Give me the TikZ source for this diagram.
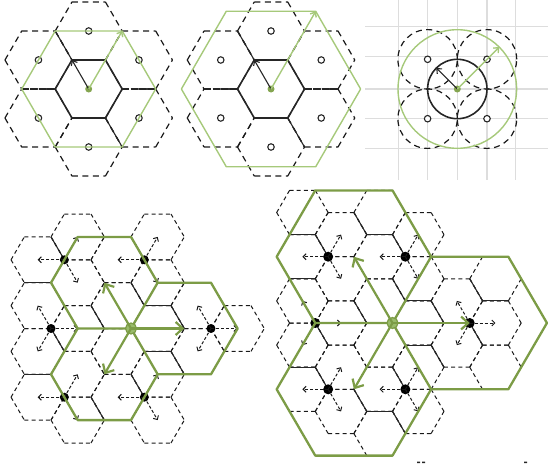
\documentclass[tikz,border=0pt]{standalone}
\usetikzlibrary{arrows.meta}
\definecolor{lgreen}{HTML}{A6C97A}
\definecolor{dgreen}{HTML}{7C9C46}
\definecolor{gridc}{HTML}{DDDDDD}
\tikzset{
  dashhex/.style={black!90,line width=1pt,dash pattern=on 4pt off 3.2pt},
  bigdash/.style={black!90,line width=1.2pt,dash pattern=on 6pt off 4.5pt},
  solidedge/.style={black!85,line width=1.1pt},
  blackhex/.style={black!85,line width=1.6pt,line join=round},
  lightgreen/.style={lgreen,line width=1.4pt,line join=round},
  thickgreen/.style={dgreen,line width=2.3pt,line join=round},
  blackarrow/.style={black!85,line width=1.1pt,-{Straight Barb[length=4pt,width=7pt]}},
  lightarrow/.style={lgreen,line width=1.4pt,-{Straight Barb[length=4pt,width=7pt]}},
  thickarrow/.style={dgreen,line width=2.2pt,-{Straight Barb[length=7pt,width=13pt,line width=2.2pt]}},
  dasharrow/.style={black!90,line width=1pt,dash pattern=on 3pt off 2pt,-{Straight Barb[length=3pt,width=6pt,line width=1pt]}},
  blackdot/.style={circle,fill=black,inner sep=0pt,minimum size=#1},
  opendot/.style={circle,draw=black!85,line width=1.1pt,fill=white,inner sep=0pt,minimum size=6.5pt},
  smallgreen/.style={circle,fill=dgreen!80!lgreen,inner sep=0pt,minimum size=7pt},
  biggreen/.style={circle,fill=lgreen!70!dgreen,draw=dgreen,line width=1.2pt,inner sep=0pt,minimum size=11pt},
  gridline/.style={gridc,line width=1.3pt}
}
% six edges of a hexagon in lattice coordinates, all drawn left to right
\newcommand\hexedges[3][dashhex]{%
  \draw[#1] ({#2-2},{#3})--({#2-1},{#3+1}) ({#2-1},{#3+1})--({#2+1},{#3+1}) ({#2+1},{#3+1})--({#2+2},{#3})
            ({#2-2},{#3})--({#2-1},{#3-1}) ({#2-1},{#3-1})--({#2+1},{#3-1}) ({#2+1},{#3-1})--({#2+2},{#3});}
% dot with three dashed arrows to hexagon centres
\newcommand\dotarrows[7]{%
  \node[blackdot=#7] (#1) at (#2,#3) {};
  \coordinate (#1a) at (#4); \coordinate (#1b) at (#5); \coordinate (#1c) at (#6);
  \draw[dasharrow] (#1.center)--(#1a);
  \draw[dasharrow] (#1.center)--(#1b);
  \draw[dasharrow] (#1.center)--(#1c);}
\newcommand\threehex[2]{% solid edges and dots common to panels 4 and 5
  \foreach \p/\q/\r/\s in {-8/2/-6/2,-6/4/-5/3,-3/1/-2/0,0/2/1/1,1/1/3/1,3/1/4/0,-6/0/-5/-1,1/-1/3/-1,3/-1/4/-2,-8/-2/-6/-2,-3/-3/-2/-4,0/-2/1/-3}
    {\draw[solidedge] (\p,\q)--(\r,\s);}
  \dotarrows{#1a}{-5}{3}{-7,3}{-4,4}{-4,2}{#2}
  \dotarrows{#1b}{1}{3}{-1,3}{2,4}{2,2}{#2}
  \dotarrows{#1c}{-6}{0}{-7,1}{-7,-1}{-4,0}{#2}
  \dotarrows{#1d}{6}{0}{5,1}{5,-1}{8,0}{#2}
  \dotarrows{#1e}{-5}{-3}{-7,-3}{-4,-2}{-4,-4}{#2}
  \dotarrows{#1f}{1}{-3}{-1,-3}{2,-2}{2,-4}{#2}
}
\begin{document}
\begin{tikzpicture}[x=1pt,y=-1pt]
\useasboundingbox (0,0) rectangle (548,463);

% ---------- panel 1
\begin{scope}[shift={(88.7,89)},x=16.75pt,y=29pt]
  \foreach \a/\b in {0/2,0/-2,3/1,3/-1,-3/1,-3/-1}{\hexedges[bigdash]{\a}{\b}}
  \draw[solidedge] (-2,2)--(-1,1) (1,-1)--(2,-2);
  \draw[solidedge,dash pattern=on 7pt off 1.5pt] (-4,0)--(-2,0) (2,0)--(4,0);
  \draw[blackhex] (-2,0)--(-1,1)--(1,1)--(2,0)--(1,-1)--(-1,-1)--cycle;
  \foreach \a/\b/\n in {0/2/a,0/-2/b,3/1/c,3/-1/d,-3/1/e,-3/-1/f}{\node[opendot] (o1\n) at (\a,\b) {};}
  \draw[lightgreen] (-4,0)--(-2,2)--(2,2)--(4,0)--(2,-2)--(-2,-2)--cycle;
  \node[smallgreen] (c1) at (0,0) {};
  \coordinate (t1a) at (-1,1); \coordinate (t1b) at (2,2);
  \draw[blackarrow] (c1.center)--(t1a);
  \draw[lightarrow] (c1.center)--(t1b);
\end{scope}

% ---------- panel 2
\begin{scope}[shift={(271,89)},x=16.75pt,y=29pt]
  \foreach \a/\b in {0/2,0/-2,3/1,3/-1,-3/1,-3/-1}{\hexedges[bigdash]{\a}{\b}}
  \draw[solidedge] (-2,2)--(-1,1) (1,-1)--(2,-2);
  \draw[solidedge,dash pattern=on 7pt off 1.5pt] (-4,0)--(-2,0) (2,0)--(4,0);
  \draw[blackhex] (-2,0)--(-1,1)--(1,1)--(2,0)--(1,-1)--(-1,-1)--cycle;
  \foreach \a/\b/\n in {0/2/a,0/-2/b,3/1/c,3/-1/d,-3/1/e,-3/-1/f}{\node[opendot] (o2\n) at (\a,\b) {};}
  \draw[lightgreen] (-5.35,0)--(-2.67,2.68)--(2.67,2.68)--(5.35,0)--(2.67,-2.68)--(-2.67,-2.68)--cycle;
  \node[smallgreen] (c2) at (0,0) {};
  \coordinate (t2a) at (-1,1); \coordinate (t2b) at (2.67,2.68);
  \draw[blackarrow] (c2.center)--(t2a);
  \draw[lightarrow] (c2.center)--(t2b);
\end{scope}

% ---------- panel 3
\foreach \x in {398.3,427.7,457.3,487,515.7}{\draw[gridline] (\x,0)--(\x,180);}
\foreach \y in {26.7,56.7,89,118.7,148.3}{\draw[gridline] (365,\y)--(548,\y);}
\begin{scope}[shift={(457.3,89)}]
  \foreach \a/\b/\n in {-29.7/-29.7/a,29.7/-29.7/b,-29.7/29.7/c,29.7/29.7/d}{
    \draw[bigdash] (\a,\b) circle[radius=29.7pt];
    \node[opendot] (o3\n) at (\a,\b) {};}
  \draw[blackhex] (0,0) circle[radius=29.7pt];
  \draw[lightgreen] (0,0) circle[radius=59.3pt];
  \node[smallgreen] (c3) at (0,0) {};
  \coordinate (t3a) at (-21,-21); \coordinate (t3b) at (42,-42);
  \draw[blackarrow] (c3.center)--(t3a);
  \draw[lightarrow] (c3.center)--(t3b);
\end{scope}

% ---------- panel 4
\begin{scope}[shift={(131,328.5)},x=13.33pt,y=22.9pt]
  \foreach \a/\b in {-7/3,-7/1,-7/-1,-7/-3,-4/4,-4/2,-4/0,-4/-2,-4/-4,-1/3,-1/1,-1/-1,-1/-3,2/4,2/2,2/0,2/-2,2/-4,5/1,5/-1,8/0}{\hexedges{\a}{\b}}
  \threehex{d4}{9pt}
  \draw[thickgreen] (0,0)--(-4,0)--(-6,2)--(-4,4)--(0,4)--(2,2)--cycle;
  \draw[thickgreen] (-4,0)--(-6,-2)--(-4,-4)--(0,-4)--(2,-2)--(0,0);
  \draw[thickgreen] (2,2)--(6,2)--(8,0)--(6,-2)--(2,-2);
  \node[biggreen] (c4) at (0,0) {};
  \coordinate (t4a) at (-2,2); \coordinate (t4b) at (-2,-2); \coordinate (t4c) at (4,0);
  \draw[thickarrow] (c4.center)--(t4a);
  \draw[thickarrow] (c4.center)--(t4b);
  \draw[thickarrow] (c4.center)--(t4c);
\end{scope}

% ---------- panel 5
\begin{scope}[shift={(392.5,323)},x=12.87pt,y=22.1pt]
  \foreach \a/\b in {-7/5,-7/3,-7/1,-7/-1,-7/-3,-4/4,-4/2,-4/0,-4/-2,-4/-4,-1/5,-1/3,-1/1,-1/-1,-1/-3,-1/-5,2/4,2/2,2/0,2/-2,2/-4,5/1,5/-1,8/2,8/0,8/-2}{\hexedges{\a}{\b}}
  \foreach \p/\q/\r/\s in {-8/4/-6/4,-2/4/0/4,0/4/1/3,-3/5/-2/4,-6/-2/-5/-3,-2/-4/0/-4,0/-4/1/-5,6/2/7/1,7/1/9/1,6/0/7/-1}
    {\draw[solidedge] (\p,\q)--(\r,\s);}
  \threehex{d5}{10pt}
  \draw[thickgreen] (0,0)--(-6,0)--(-9,3)--(-6,6)--(0,6)--(3,3)--cycle;
  \draw[thickgreen] (-6,0)--(-9,-3)--(-6,-6)--(0,-6)--(3,-3)--(0,0);
  \draw[thickgreen] (3,3)--(9,3)--(12,0)--(9,-3)--(3,-3);
  \node[biggreen] (c5) at (0,0) {};
  \coordinate (t5a) at (-3,3); \coordinate (t5b) at (-3,-3); \coordinate (t5c) at (6,0);
  \draw[thickarrow] (c5.center)--(t5a);
  \draw[thickarrow] (c5.center)--(t5b);
  \draw[thickarrow] (c5.center)--(t5c);
\end{scope}

% cut-off marks along the bottom edge
\fill[black!85] (417,461.5) rectangle (420,463) (422,461.5) rectangle (425,463) (524,461.5) rectangle (527,463);
\end{tikzpicture}
\end{document}
